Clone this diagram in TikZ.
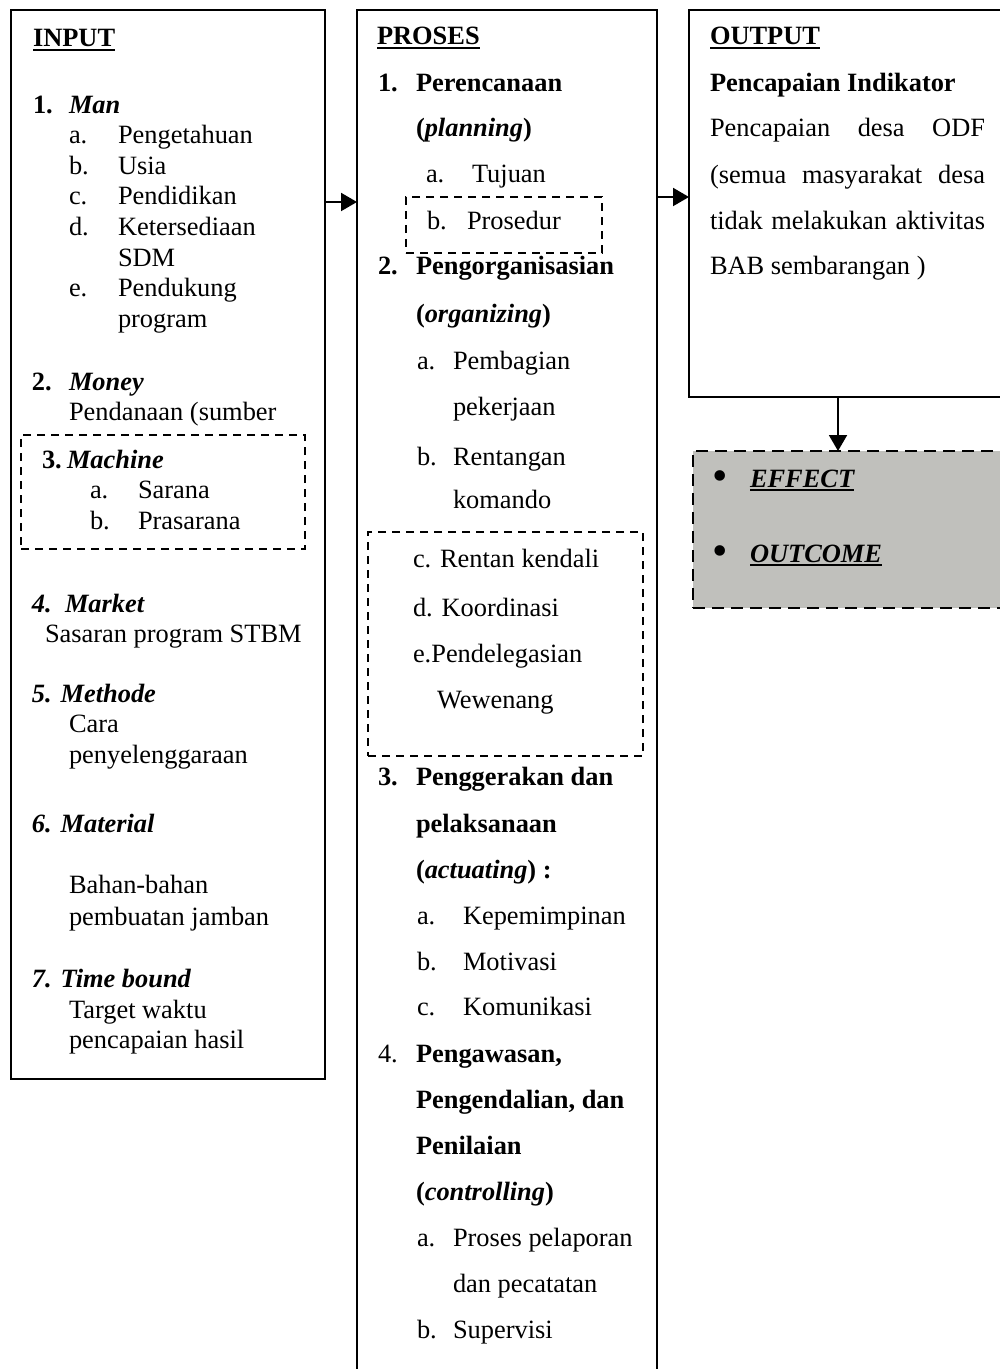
\documentclass[tikz,border=0pt]{standalone}
\usepackage{fontspec}
\setmainfont{Liberation Serif}
\usetikzlibrary{arrows.meta}
\definecolor{effectgray}{RGB}{192,192,188}
\newcommand{\thickul}[1]{\setbox0\hbox{#1}\rlap{\rule[-2.2pt]{\wd0}{1.1pt}}\box0}
\begin{document}
\begin{tikzpicture}
  [x=0.5pt,y=-0.5pt,
   every node/.style={inner sep=0pt,outer sep=0pt},
   txt/.style={anchor=base west,font=\fontsize{13.2}{15}\selectfont},
   dot/.style={anchor=center,font=\fontsize{22}{22}\selectfont},
   bigbox/.style={draw,line width=1pt,anchor=north west},
   dashbox/.style={draw,line width=0.8pt,dash pattern=on 4pt off 3pt,anchor=north west},
   arr/.style={line width=1pt,-{Triangle[length=8pt,width=9pt]}}]
  \useasboundingbox (0,0) rectangle (1000,1369);
  \clip (0,0) rectangle (1000,1369);
  % boxes
  \node[bigbox,minimum width=157pt,minimum height=534.5pt] (input) at (11,10) {};
  \node[bigbox,minimum width=150pt,minimum height=700pt] (proses) at (357,10) {};
  \node[bigbox,minimum width=166pt,minimum height=193.5pt] (output) at (689,10) {};
  \node[bigbox,fill=effectgray,dash pattern=on 6pt off 3.5pt,minimum width=164pt,minimum height=78.5pt] (effect) at (693,451) {};
  \node[dashbox,minimum width=142pt,minimum height=57pt] (machine) at (21,435) {};
  \node[dashbox,minimum width=98pt,minimum height=28pt] (prosedur) at (406,197) {};
  \node[dashbox,minimum width=137.5pt,minimum height=112pt] (kendali) at (368,532) {};
  % INPUT
  \node[txt] (inhead) at (33,47) {\textbf{\thickul{INPUT}}};
  \node[txt] (in1) at (33,114) {\textbf{1.}};
  \node[txt] (in1t) at (69,114) {\textbf{\textit{Man}}};
  \foreach \k/\y/\lab/\t in {a/144/a./Pengetahuan,b/175/b./Usia,c/205/c./Pendidikan,
                             d/236/d./Ketersediaan,e/297/e./Pendukung}{
    \node[txt] (in1\k) at (69,\y) {\lab};
    \node[txt] (in1\k-t) at (118,\y) {\t};
  }
  \node[txt] (in1d-2) at (118,267) {SDM};
  \node[txt] (in1e-2) at (118,328) {program};
  \node[txt] (in2) at (32,390) {\textbf{2.}};
  \node[txt] (in2t) at (69,390) {\textbf{\textit{Money}}};
  \node[txt] (in2a) at (69,420) {Pendanaan (sumber};
  \node[txt] (in3) at (42,468) {\textbf{3.}};
  \node[txt] (in3t) at (67,468) {\textbf{\textit{Machine}}};
  \node[txt] (in3a) at (90,498) {a.};
  \node[txt] (in3a-t) at (138,498) {Sarana};
  \node[txt] (in3b) at (90,529) {b.};
  \node[txt] (in3b-t) at (138,529) {Prasarana};
  \node[txt] (in4) at (32,612) {\textbf{\textit{4.}}};
  \node[txt] (in4t) at (65,612) {\textbf{\textit{Market}}};
  \node[txt] (in4a) at (45,642) {Sasaran program STBM};
  \node[txt] (in5) at (32,702) {\textbf{\textit{5. Methode}}};
  \node[txt] (in5a) at (69,732) {Cara};
  \node[txt] (in5b) at (69,763) {penyelenggaraan};
  \node[txt] (in6) at (32,832) {\textbf{\textit{6. Material}}};
  \node[txt] (in6a) at (69,893) {Bahan-bahan};
  \node[txt] (in6b) at (69,925) {pembuatan jamban};
  \node[txt] (in7) at (32,987) {\textbf{\textit{7. Time bound}}};
  \node[txt] (in7a) at (69,1018) {Target waktu};
  \node[txt] (in7b) at (69,1048) {pencapaian hasil};
  % PROSES
  \node[txt] (prhead) at (377,45) {\textbf{\thickul{PROSES}}};
  \node[txt] (pr1) at (378,92) {\textbf{1.}};
  \node[txt] (pr1t) at (416,92) {\textbf{Perencanaan}};
  \node[txt] (pr1t-2) at (416,137) {\textbf{(\textit{planning})}};
  \node[txt] (pr1a) at (426,183) {a.};
  \node[txt] (pr1a-t) at (472,183) {Tujuan};
  \node[txt] (pr1b) at (427,230) {b.};
  \node[txt] (pr1b-t) at (467,230) {Prosedur};
  \node[txt] (pr2) at (378,275) {\textbf{2.}};
  \node[txt] (pr2t) at (416,275) {\textbf{Pengorganisasian}};
  \node[txt] (pr2t-2) at (416,322) {\textbf{(\textit{organizing})}};
  \node[txt] (pr2a) at (417,370) {a.};
  \node[txt] (pr2a-t) at (453,370) {Pembagian};
  \node[txt] (pr2a-2) at (453,415) {pekerjaan};
  \node[txt] (pr2b) at (417,465) {b.};
  \node[txt] (pr2b-t) at (453,465) {Rentangan};
  \node[txt] (pr2b-2) at (453,508) {komando};
  \node[txt] (pr2c) at (413,567) {c. Rentan kendali};
  \node[txt] (pr2d) at (413,616) {d. Koordinasi};
  \node[txt] (pr2e) at (413,662) {e.Pendelegasian};
  \node[txt] (pr2e-2) at (437,708) {Wewenang};
  \node[txt] (pr3) at (378,785) {\textbf{3.}};
  \node[txt] (pr3t) at (416,785) {\textbf{Penggerakan dan}};
  \node[txt] (pr3t-2) at (416,832) {\textbf{pelaksanaan}};
  \node[txt] (pr3t-3) at (416,878) {\textbf{(\textit{actuating}) :}};
  \foreach \k/\y/\t in {a/924/Kepemimpinan,b/970/Motivasi,c/1015/Komunikasi}{
    \node[txt] (pr3\k) at (417,\y) {\k.};
    \node[txt] (pr3\k-t) at (463,\y) {\t};
  }
  \node[txt] (pr4) at (378,1062) {4.};
  \node[txt] (pr4t) at (416,1062) {\textbf{Pengawasan,}};
  \node[txt] (pr4t-2) at (416,1108) {\textbf{Pengendalian, dan}};
  \node[txt] (pr4t-3) at (416,1154) {\textbf{Penilaian}};
  \node[txt] (pr4t-4) at (416,1200) {\textbf{(\textit{controlling})}};
  \node[txt] (pr4a) at (417,1246) {a.};
  \node[txt] (pr4a-t) at (453,1246) {Proses pelaporan};
  \node[txt] (pr4a-2) at (453,1292) {dan pecatatan};
  \node[txt] (pr4b) at (417,1338) {b.};
  \node[txt] (pr4b-t) at (453,1338) {Supervisi};
  % OUTPUT
  \node[txt] (outhead) at (710,45) {\textbf{\thickul{OUTPUT}}};
  \node[txt] (out1) at (710,92) {\textbf{Pencapaian Indikator}};
  \node[txt] (out2) at (710,137) {\makebox[137.5pt][s]{Pencapaian\hfill desa\hfill ODF}};
  \node[txt] (out3) at (710,184) {\makebox[137.5pt][s]{(semua\hfill masyarakat\hfill desa}};
  \node[txt] (out4) at (710,230) {\makebox[137.5pt][s]{tidak\hfill melakukan\hfill aktivitas}};
  \node[txt] (out5) at (710,275) {BAB sembarangan )};
  \node[dot] (ef1) at (720,481) {\textbullet};
  \node[txt] (ef1t) at (750,487) {\textbf{\textit{\thickul{EFFECT}}}};
  \node[dot] (ef2) at (720,556) {\textbullet};
  \node[txt] (ef2t) at (750,562) {\textbf{\textit{\thickul{OUTCOME}}}};
  % arrows
  \coordinate (row1) at (0,202);
  \coordinate (row2) at (0,197);
  \coordinate (col3) at (838,0);
  \draw[arr] (input.east |- row1) -- (proses.west |- row1);
  \draw[arr] (proses.east |- row2) -- (output.west |- row2);
  \draw[arr] (output.south -| col3) -- (effect.north -| col3);
\end{tikzpicture}
\end{document}
